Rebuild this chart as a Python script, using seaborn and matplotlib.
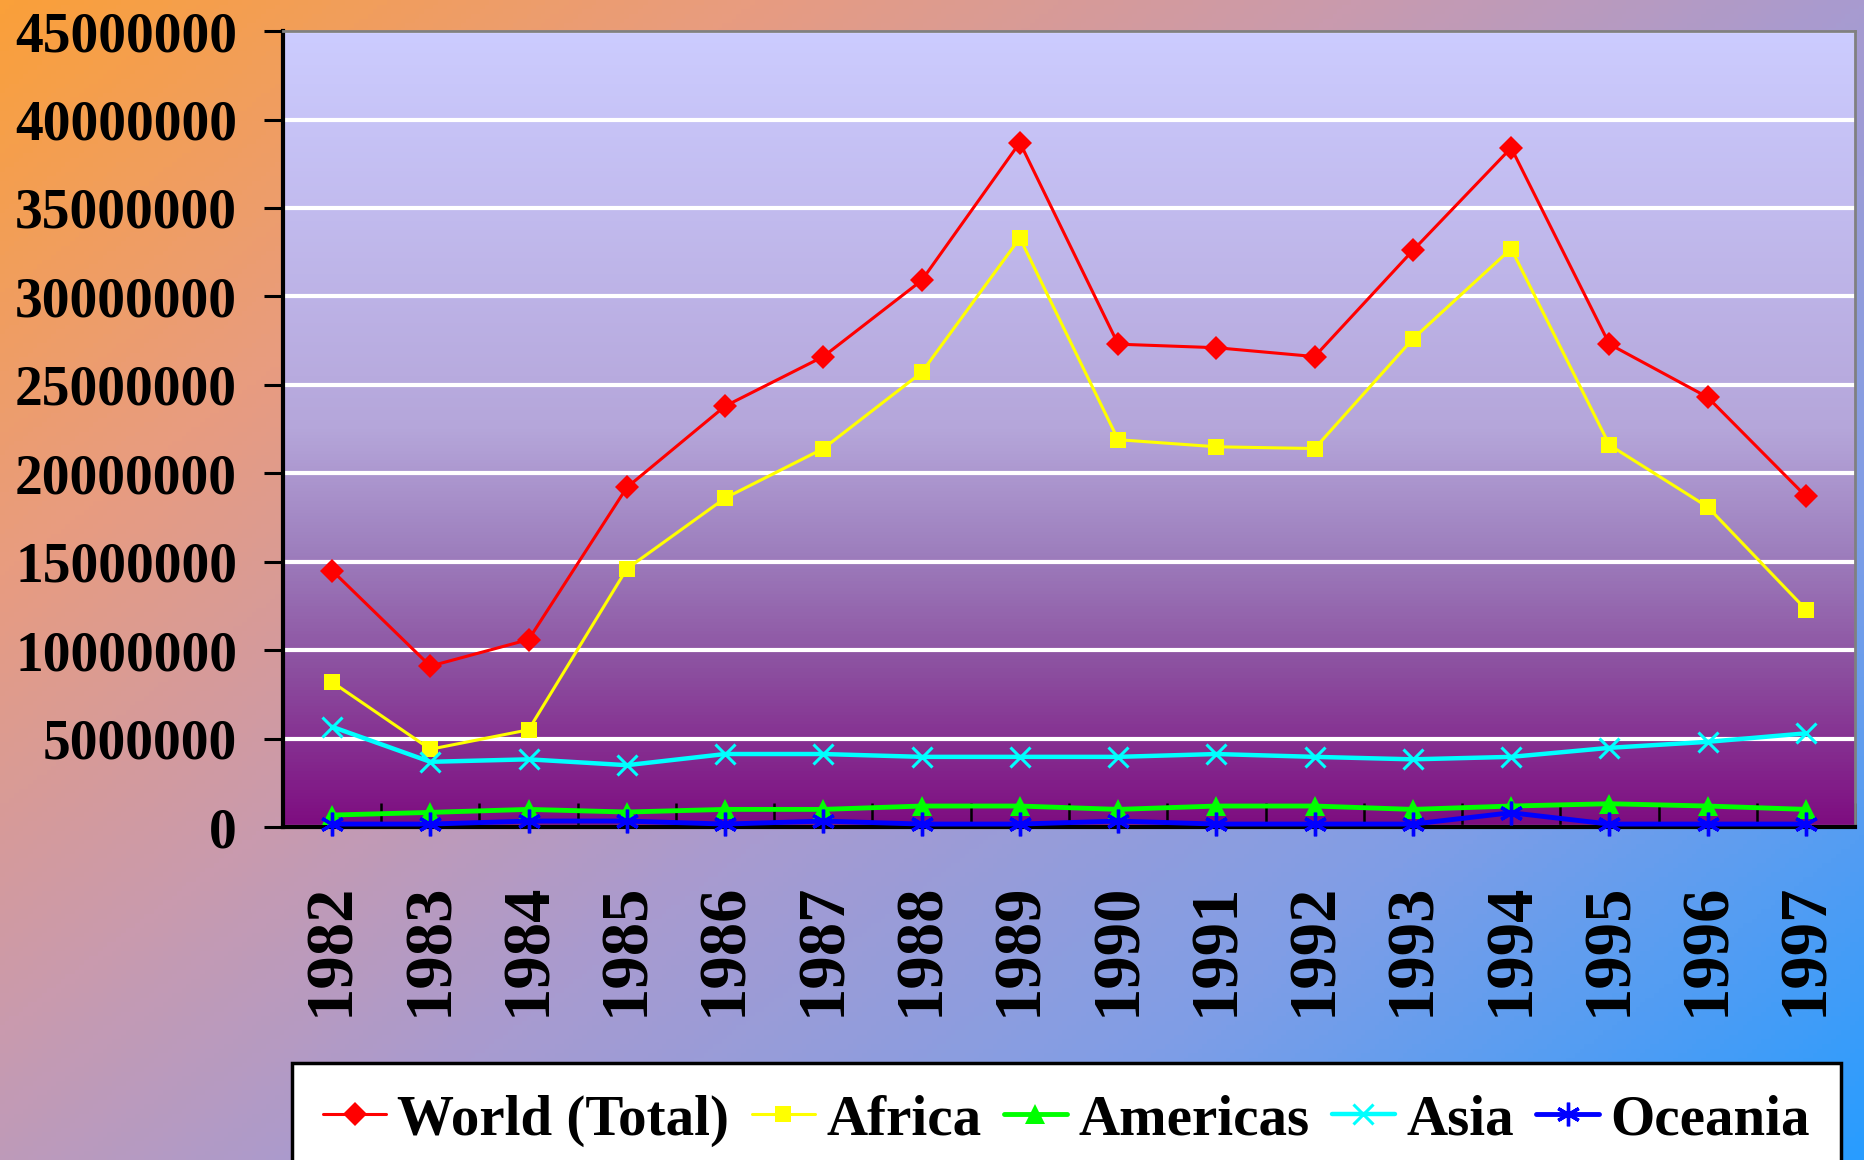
import numpy as np
import pandas as pd
import seaborn as sns
import matplotlib.pyplot as plt
from matplotlib.colors import LinearSegmentedColormap
from matplotlib.lines import Line2D
from matplotlib.ticker import FuncFormatter, MultipleLocator

# -----------------------------
# Data
# -----------------------------
years = [1982, 1983, 1984, 1985, 1986, 1987, 1988, 1989,
         1990, 1991, 1992, 1993, 1994, 1995, 1996, 1997]

world = [14500000, 9100000, 10600000, 19200000, 23800000, 26600000, 30900000, 38700000,
         27300000, 27100000, 26600000, 32600000, 38400000, 27300000, 24300000, 18700000]
africa = [8200000, 4400000, 5500000, 14600000, 18600000, 21400000, 25700000, 33300000,
          21900000, 21500000, 21400000, 27600000, 32700000, 21600000, 18100000, 12300000]
americas = [680000, 830000, 1000000, 850000, 1000000, 1000000, 1190000, 1190000,
            1000000, 1190000, 1190000, 1000000, 1190000, 1320000, 1190000, 1000000]
asia = [5670000, 3690000, 3830000, 3500000, 4130000, 4130000, 3970000, 3970000,
        3970000, 4130000, 3970000, 3830000, 3970000, 4480000, 4820000, 5300000]
oceania = [170000, 170000, 340000, 340000, 170000, 340000, 170000, 170000,
           340000, 170000, 170000, 170000, 810000, 170000, 170000, 170000]

series_names = ["World (Total)", "Africa", "Americas", "Asia", "Oceania"]
series_values = [world, africa, americas, asia, oceania]

# -----------------------------
# Styles
# -----------------------------
styles = [
    dict(color="#FF0000", marker="D", markersize=12, linewidth=2.2, markeredgewidth=0),
    dict(color="#FFFF00", marker="s", markersize=11.5, linewidth=2.2, markeredgewidth=0),
    dict(color="#00FF00", marker="^", markersize=14, linewidth=3.5, markeredgewidth=0),
    dict(color="#00FFFF", marker="x", markersize=15, linewidth=3.2, markeredgewidth=2.2),
    dict(color="#0000FF", marker=(6, 2, 0), markersize=17, linewidth=3.5, markeredgewidth=2.4),
]

sns.set_style("white")
plt.rcParams["font.family"] = ["Liberation Serif", "DejaVu Serif"]
plt.rcParams["font.weight"] = "bold"
plt.rcParams["text.color"] = "black"
plt.rcParams["xtick.color"] = "black"
plt.rcParams["ytick.color"] = "black"

fig = plt.figure(figsize=(18.64, 11.6), dpi=100)

# -----------------------------
# Figure background: diagonal gradient
# -----------------------------
bg = fig.add_axes([0, 0, 1, 1], zorder=-10)
xx, yy = np.meshgrid(np.linspace(0, 1, 400), np.linspace(0, 1, 250))
bg_cmap = LinearSegmentedColormap.from_list(
    "bg", [(0.0, "#FAA03A"), (0.22, "#E89C80"), (0.4, "#C99AAE"), (0.55, "#A89BD0"),
           (0.75, "#809EE6"), (1.0, "#289CFF")])
bg.imshow(0.55 * xx + 0.45 * yy, cmap=bg_cmap, aspect="auto", extent=(0, 1, 1, 0))
bg.set_axis_off()

# -----------------------------
# Main axes
# -----------------------------
ax = fig.add_axes([0.1518, 0.287, 0.8434, 0.6862])
ax.patch.set_visible(False)
plot_cmap = LinearSegmentedColormap.from_list(
    "plotbg", [(0.0, "#CCCCFF"), (0.5, "#B5A6DA"), (0.65, "#9E80BE"),
               (0.8, "#8C50A0"), (1.0, "#7E0C80")])
ax.imshow(np.linspace(0, 1, 256)[:, None], cmap=plot_cmap, aspect="auto",
          extent=(0, 1, 0, 1), transform=ax.transAxes, zorder=-1)

for vals, st in zip(series_values, styles):
    sns.lineplot(x=years, y=vals, ax=ax, legend=False, markeredgecolor=st["color"],
                 clip_on=False, zorder=3, **st)

ax.set_xlim(1981.5, 1997.5)
ax.set_ylim(0, 45000000)
ax.set_xlabel("")
ax.set_ylabel("")

ax.set_axisbelow(True)
ax.yaxis.grid(True, color="white", linewidth=3)
ax.xaxis.grid(False)

ax.yaxis.set_major_locator(MultipleLocator(5000000))
ax.yaxis.set_major_formatter(FuncFormatter(lambda v, p: f"{int(round(v))}"))
ax.tick_params(axis="y", which="major", direction="out", length=14, width=2.2,
               pad=19, labelsize=40, left=True, color="black", labelcolor="black")

ax.set_xticks(years)
ax.set_xticklabels([str(y) for y in years], rotation=90, fontsize=48, fontweight="bold")
ax.set_xticks([y + 0.5 for y in years], minor=True)
ax.tick_params(axis="x", which="major", length=0, pad=40, labelcolor="black")
ax.tick_params(axis="x", which="minor", direction="in", length=17, width=1.8,
               bottom=True, color="black")
for lab in ax.get_yticklabels():
    lab.set_fontweight("bold")

for side in ["left", "bottom"]:
    ax.spines[side].set_color("black")
    ax.spines[side].set_linewidth(3)
for side in ["top", "right"]:
    ax.spines[side].set_color("#808080")
    ax.spines[side].set_linewidth(2)

# -----------------------------
# Legend
# -----------------------------
handles = [Line2D([0], [0], markeredgecolor=st["color"], **st) for st in styles]
leg = fig.legend(handles, series_names, loc="upper left",
                 bbox_to_anchor=(292 / 1864, 1 - 1063 / 1160), ncol=5,
                 frameon=True, fancybox=False, edgecolor="black", facecolor="white",
                 framealpha=1, prop={"family": "Liberation Serif", "weight": "bold", "size": 41},
                 handlelength=1.1, handletextpad=0.2, columnspacing=0.4,
                 borderpad=0.55, borderaxespad=0, numpoints=1)
leg.get_frame().set_linewidth(2.5)
for txt in leg.get_texts():
    txt.set_color("black")

fig.savefig("out.png", dpi=100)
